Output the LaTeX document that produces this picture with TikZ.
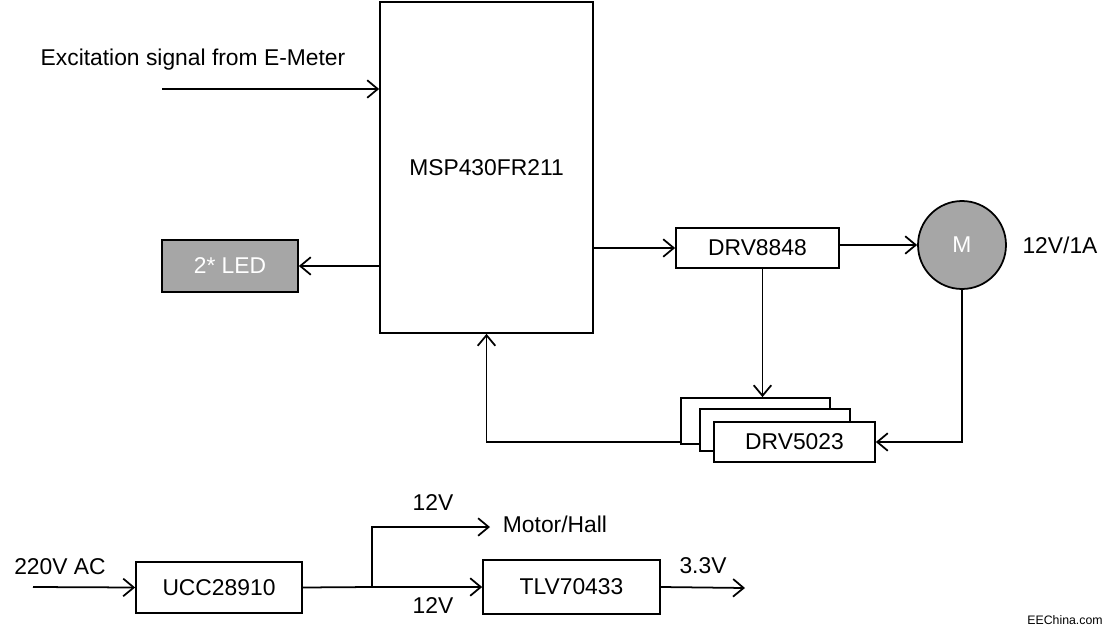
\documentclass[tikz,border=0pt]{standalone}
\usepackage{fontspec}
\setmainfont{Liberation Sans}
\usetikzlibrary{arrows.meta}
\definecolor{boxgray}{HTML}{A6A6A6}
\begin{document}
\begin{tikzpicture}[x=0.02cm,y=-0.02cm,line width=1pt,
  font=\fontsize{13}{15}\selectfont,
  blk/.style={draw,fill=white,inner sep=0pt},
  arr/.style={-{Straight Barb[length=6pt,width=10pt]}},
  lbl/.style={inner sep=0pt}]
\useasboundingbox (0,0) rectangle (1113,636);

% controller
\node[blk,minimum width=4.26cm,minimum height=6.62cm] (msp) at (486.5,167.5) {MSP430FR211};
\node[blk,fill=boxgray,text=white,minimum width=2.72cm,minimum height=1.04cm] (led) at (230,266) {2* LED};
\node[blk,minimum width=3.26cm,minimum height=0.80cm] (drv) at (757.5,248) {DRV8848};
\node[draw,circle,fill=boxgray,text=white,minimum size=1.76cm,inner sep=0pt] (mot) at (962,245) {M};
\node[lbl] (rating) at (1060,245) {12V/1A};

% hall sensors, stacked
\node[blk,minimum width=2.98cm,minimum height=0.92cm] (halla) at (755.5,421) {};
\node[blk,minimum width=3.00cm,minimum height=0.84cm] (hallb) at (775,430) {};
\node[blk,minimum width=3.22cm,minimum height=0.80cm] (hallc) at (794.5,442) {DRV5023};

% input signal
\coordinate (exc) at (162,89);
\node[lbl] (exctxt) at (193,60) {Excitation signal from E-Meter};
\draw[arr] (exc) -- (exc -| msp.west);

\draw[arr] (msp.west |- led) -- (led.east);
\draw[arr] (msp.east |- drv) -- (drv.west);
\draw[arr] (drv.east |- mot) -- (mot.west);
\draw[arr] ([xshift=0.1cm]drv.south) -- ([xshift=0.1cm]drv.south |- halla.north);
\draw[arr] (mot.south) |- (hallc.east);
\draw[arr] (halla.west |- hallc) -| (msp.south);

% power supply
\node[blk,minimum width=3.32cm,minimum height=1.02cm] (ucc) at (219,587.5) {UCC28910};
\node[blk,minimum width=3.54cm,minimum height=1.08cm] (tlv) at (571.5,587) {TLV70433};
\coordinate (acin) at (33,587);
\coordinate (split) at (372,587);
\coordinate (hallpwr) at (490,527);
\coordinate (vout) at (745,588);
\node[lbl] (actxt) at (60,567) {220V AC};
\node[lbl] (vtop) at (433,503) {12V};
\node[lbl] (motxt) at (555,524) {Motor/Hall};
\node[lbl] (vbot) at (433,606) {12V};
\node[lbl] (vout txt) at (703,566) {3.3V};

\draw[arr] (acin) -- (ucc.west);
\draw (ucc.east) -- (split);
\draw[arr] (split) -- (tlv.west);
\draw[arr] (split) |- (hallpwr);
\draw[arr] (tlv.east) -- (vout);

\node[lbl,font=\fontsize{7}{8}\selectfont] (mark) at (1065,620) {EEChina.com};
\end{tikzpicture}
\end{document}
